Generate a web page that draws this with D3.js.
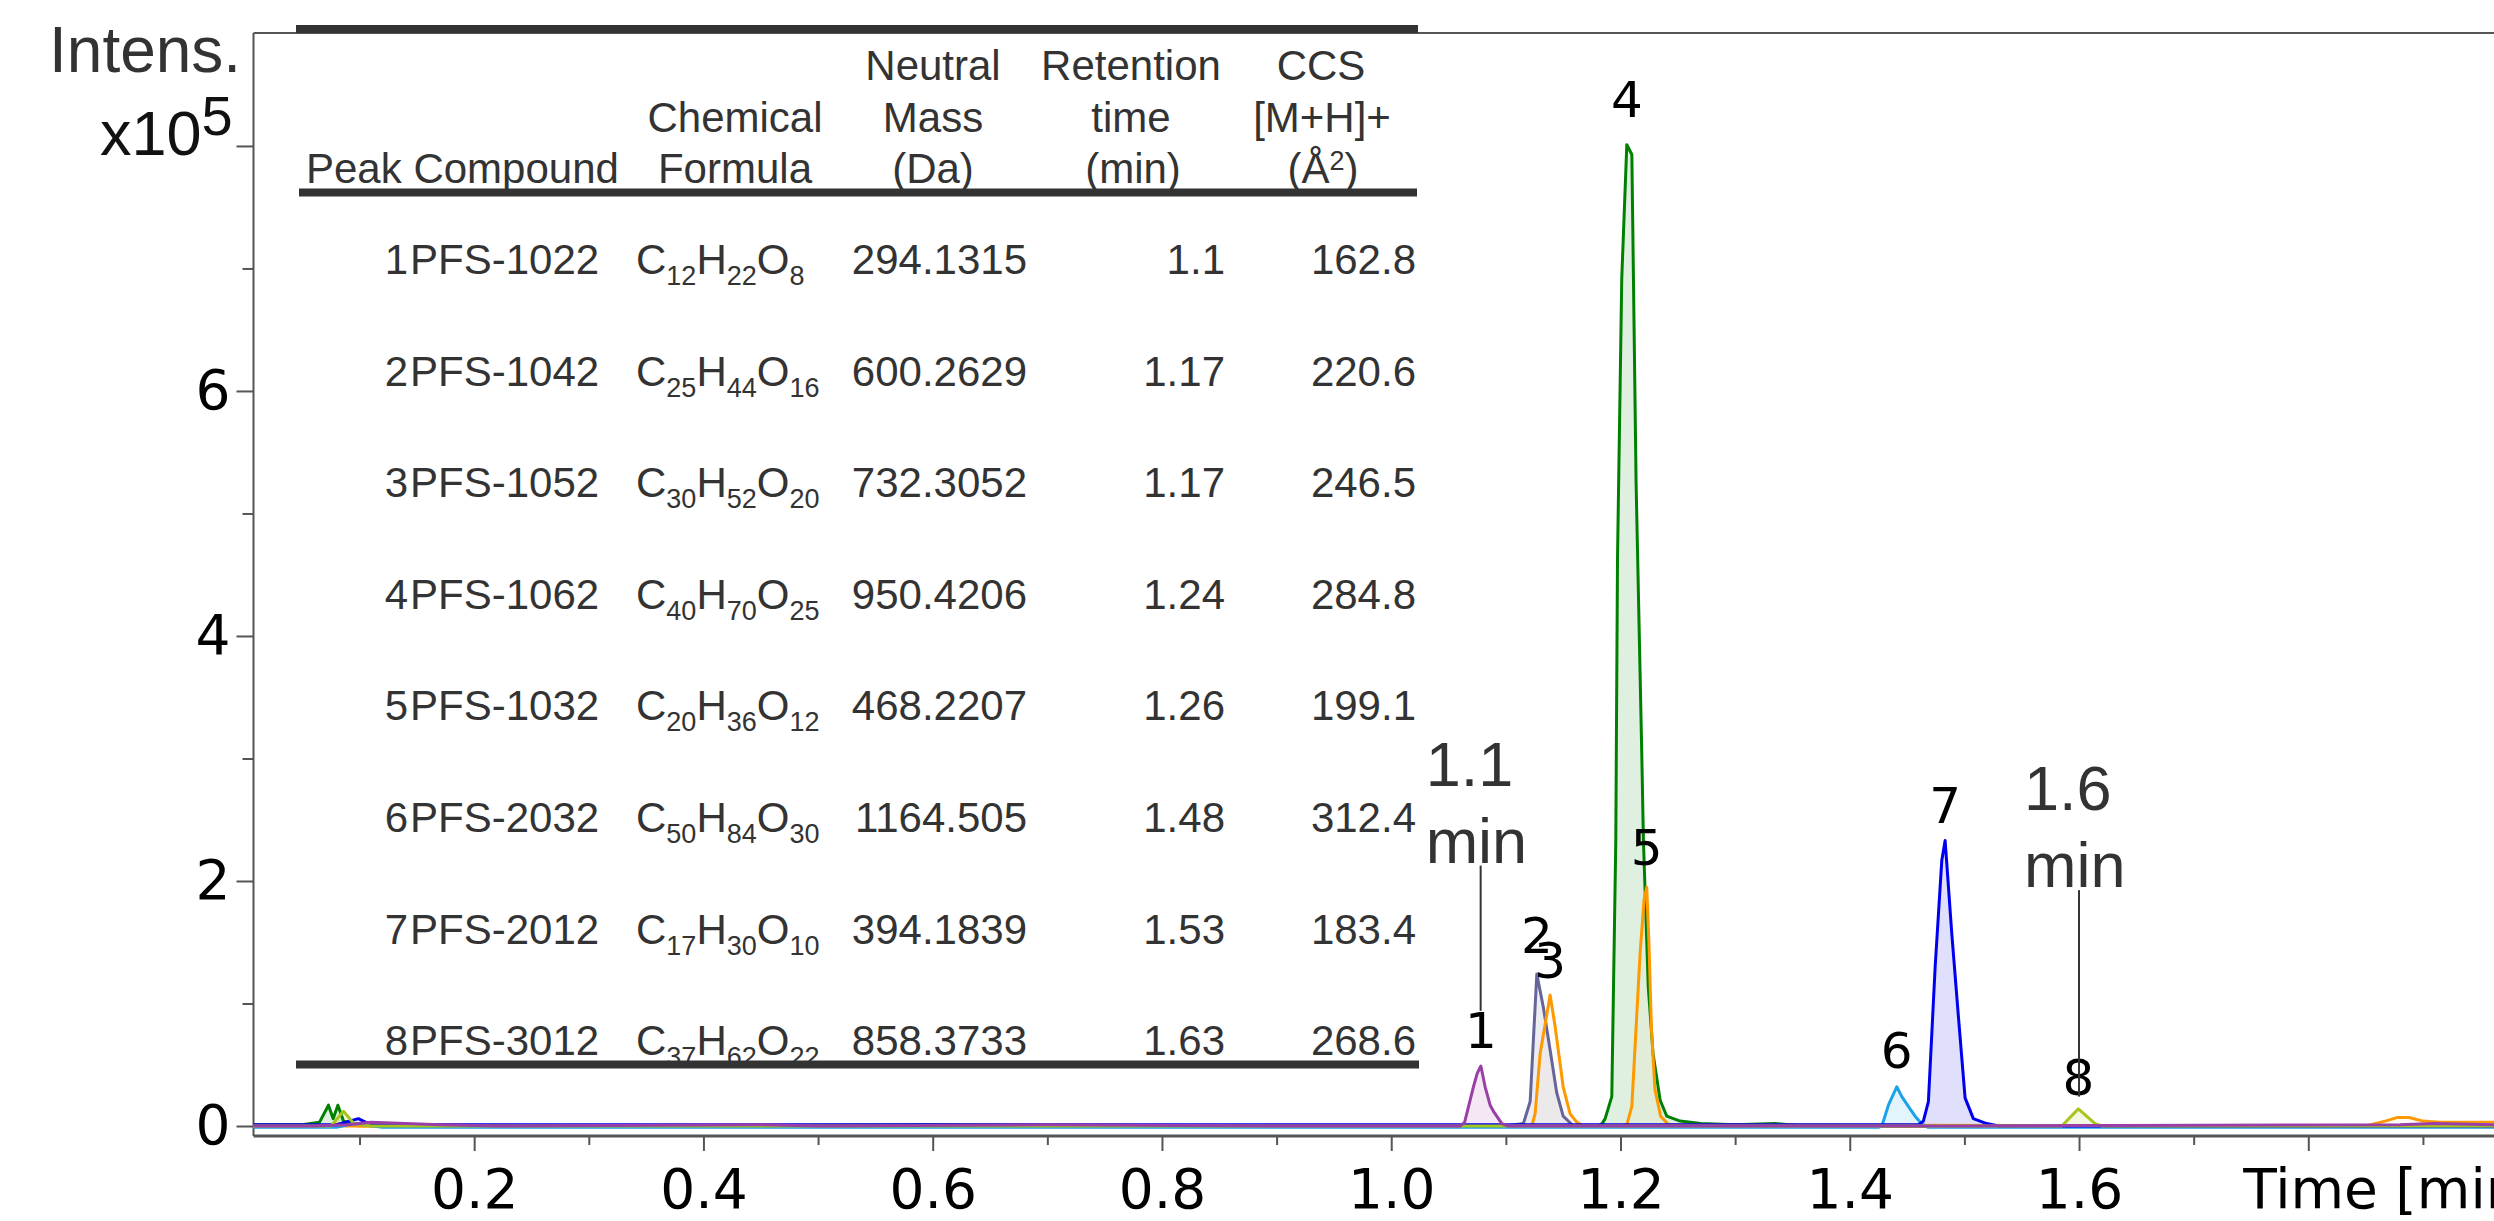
<!DOCTYPE html>
<html>
<head>
<meta charset="utf-8">
<script src="https://cdn.jsdelivr.net/npm/d3@7"></script>
<style>
body{margin:0;background:#fff;}
svg{display:block;}
</style>
</head>
<body>
<div id="canvas"></div>
<script>
// table rows
var peakNums = [1,2,3,4,5,6,7,8];
var compounds = ['PFS-1022','PFS-1042','PFS-1052','PFS-1062','PFS-1032','PFS-2032','PFS-2012','PFS-3012'];
var formulas = [[12,22,8],[25,44,16],[30,52,20],[40,70,25],[20,36,12],[50,84,30],[17,30,10],[37,62,22]];
var masses = ['294.1315','600.2629','732.3052','950.4206','468.2207','1164.505','394.1839','858.3733'];
var retTimes = ['1.1','1.17','1.17','1.24','1.26','1.48','1.53','1.63'];
var ccsValues = ['162.8','220.6','246.5','284.8','199.1','312.4','183.4','268.6'];

// ticks
var yMajorTicks = [0,2,4,6,8];
var yMinorTicks = [1,3,5,7];
var xMajorTicks = [0.2,0.4,0.6,0.8,1.0,1.2,1.4,1.6,1.8];
var xMinorTicks = [0.1,0.3,0.5,0.7,0.9,1.1,1.3,1.5,1.7,1.9];

// traces: [time (min), intensity (x10^5)]
var tracePurple = [[0.0075,0.0],[0.06,0.0],[0.09,0.01],[0.11,0.03],[0.14,0.02],[0.17,0.01],[0.22,0.0],[0.45,0.01],[0.5,0.0],[0.7,0.01],[0.9,0.0],
    [1.060,0.0],[1.064,0.03],[1.0717,0.32],[1.075,0.43],[1.0782,0.49],[1.0819,0.32],[1.0863,0.17],[1.0892,0.12],[1.0965,0.02],[1.102,0.0],
    [1.5,0.0],[1.88,0.01],[1.91,0.02],[1.962,0.01]];
var traceSlate = [[0.0075,0.0],[0.08,0.0],[0.095,0.02],[0.11,0.0],[1.10,0.0],
    [1.1153,0.02],[1.1212,0.2],[1.127,1.24],[1.1327,0.97],[1.1386,0.62],[1.1444,0.27],[1.150,0.08],[1.159,0.0],[1.962,0.0]];
var traceOrange3 = [[0.0075,0.0],[0.07,0.0],[0.085,0.02],[0.1,0.0],[1.12,0.0],
    [1.1226,0.0],[1.1255,0.1],[1.1299,0.59],[1.1386,1.07],[1.143,0.81],[1.150,0.32],[1.156,0.10],[1.162,0.03],[1.168,0.0],[1.962,0.0]];
var traceGreen = [[0.0075,0.01],[0.05,0.01],[0.065,0.03],[0.0729,0.17],[0.077,0.06],[0.0811,0.17],[0.086,0.04],[0.10,0.01],[0.3,0.0],[0.6,0.01],[0.9,0.0],
    [1.18,0.0],[1.184,0.02],[1.1866,0.06],[1.1924,0.24],[1.1959,2.33],[1.1974,4.64],[1.2011,6.92],[1.2055,8.01],[1.2099,7.93],[1.2136,5.25],
    [1.2186,3.02],[1.2200,2.33],[1.2242,1.14],[1.2284,0.59],[1.2346,0.21],[1.2404,0.08],[1.252,0.04],[1.27,0.02],[1.30,0.01],[1.335,0.02],[1.36,0.0],[1.962,0.0]];
var traceOrange5 = [[0.0075,0.0],[1.200,0.0],[1.2055,0.01],[1.2099,0.16],[1.2171,1.41],[1.2206,1.85],[1.2229,1.95],[1.2248,1.5],[1.2270,0.8],
    [1.2300,0.3],[1.2350,0.08],[1.2420,0.01],[1.85,0.0],[1.867,0.04],[1.878,0.07],[1.888,0.07],[1.90,0.04],[1.915,0.03],[1.962,0.03]];
var traceLightBlue = [[0.0075,-0.01],[0.08,-0.01],[0.095,0.02],[0.12,-0.01],[1.425,-0.01],
    [1.428,0.0],[1.4337,0.17],[1.441,0.32],[1.4454,0.24],[1.4526,0.14],[1.457,0.08],[1.4625,0.02],[1.468,-0.01],[1.962,-0.01]];
var traceBlue = [[0.0075,0.01],[0.08,0.01],[0.099,0.06],[0.11,0.01],[0.5,0.01],[1.46,0.01],
    [1.4642,0.04],[1.4686,0.2],[1.4745,1.30],[1.4803,2.17],[1.4832,2.33],[1.489,1.57],[1.4948,0.89],[1.5006,0.23],[1.5078,0.06],[1.5194,0.02],[1.53,0.0],[1.962,0.0]];
var traceYellowGreen = [[0.0075,0.0],[0.075,0.0],[0.086,0.12],[0.095,0.02],[0.11,0.0],[1.58,0.0],
    [1.585,0.0],[1.5994,0.14],[1.614,0.02],[1.62,0.0],[1.962,0.0]];

// which trace each numbered peak sits on
var peakTraces = [tracePurple, traceSlate, traceOrange3, traceGreen, traceOrange5, traceLightBlue, traceBlue, traceYellowGreen];

// retention time call-outs
var annotTexts = ['1.1','1.6'];
var annotTimes = [1.078,1.6];
var annotTextLevel = [2.15,1.95];
var annotLineEnd = [0.94,0.24];

var traces = [
    {pts:traceSlate, color:'#65659a', fillOp:0.12},
    {pts:traceOrange3, color:'#ff9900', fillOp:0.03},
    {pts:traceGreen, color:'#008000', fillOp:0.12},
    {pts:traceOrange5, color:'#ff9900', fillOp:0.03},
    {pts:traceLightBlue, color:'#1aa3e8', fillOp:0.12},
    {pts:traceBlue, color:'#0000f0', fillOp:0.12},
    {pts:traceYellowGreen, color:'#a6c61c', fillOp:0.12},
    {pts:tracePurple, color:'#9a3ea8', fillOp:0.12}
];

// gap (px) between each apex and its number
var labelGap = [18,21,17,28,22,19,18,14];

var outerWidth = 2494, outerHeight = 1221;
var m = {t:33,r:0,b:85,l:253.5};
var w = outerWidth - m.l - m.r,
    h = outerHeight - m.t - m.b;

var svg = d3.select('#canvas')
    .append('svg')
    .attr('width',outerWidth)
    .attr('height',outerHeight);

var plot = svg.append('g')
    .attr('transform','translate(' + m.l + ',' + m.t + ')');

//Scale
var scaleX = d3.scaleLinear()
    .domain([0.0075,1.962])
    .range([0,w]);
var scaleY = d3.scaleLinear()
    .domain([-0.0816,8.922])
    .range([h,0]);

//Axis
var axisYMajor = d3.axisLeft(scaleY)
    .tickValues(yMajorTicks)
    .tickSize(17)
    .tickPadding(6)
    .tickFormat(function(d){return d===8 ? '' : d;});
var axisYMinor = d3.axisLeft(scaleY)
    .tickValues(yMinorTicks)
    .tickSize(11)
    .tickFormat('');
var axisXMajor = d3.axisBottom(scaleX)
    .tickValues(xMajorTicks)
    .tickSize(15)
    .tickPadding(18)
    .tickFormat(function(d){return d===1.8 ? '' : d3.format('.1f')(d);});
var axisXMinor = d3.axisBottom(scaleX)
    .tickValues(xMinorTicks)
    .tickSize(9)
    .tickFormat('');

[axisYMajor,axisYMinor].forEach(function(ax){
    plot.append('g').attr('class','axis axis-y').call(ax);
});
[axisXMajor,axisXMinor].forEach(function(ax){
    plot.append('g').attr('class','axis axis-x')
        .attr('transform','translate(0,'+h+')')
        .call(ax);
});
plot.selectAll('.axis .domain').remove();
plot.selectAll('.axis line').style('stroke','#555').style('stroke-width','2px');
plot.selectAll('.axis text')
    .style('font-family','"DejaVu Sans"')
    .style('font-size','55px')
    .style('fill','#000');

//Frame
plot.append('line').attr('x1',0).attr('x2',0).attr('y1',0).attr('y2',h)
    .style('stroke','#555').style('stroke-width','2px');
plot.append('line').attr('x1',0).attr('x2',w).attr('y1',0).attr('y2',0)
    .style('stroke','#555').style('stroke-width','2px');
plot.append('line').attr('x1',0).attr('x2',w).attr('y1',h).attr('y2',h)
    .style('stroke','#555').style('stroke-width','3px');

//Traces
var lineGenerator = d3.line()
    .x(function(d){return scaleX(d[0])})
    .y(function(d){return scaleY(d[1])});
var areaGenerator = d3.area()
    .x(function(d){return scaleX(d[0])})
    .y0(scaleY(0))
    .y1(function(d){return scaleY(d[1])});

var traceG = plot.append('g');
traceG.selectAll('.fill')
    .data(traces)
    .enter()
    .append('path')
    .attr('class','fill')
    .attr('d',function(d){return areaGenerator(d.pts)})
    .style('fill',function(d){return d.color})
    .style('fill-opacity',function(d){return d.fillOp})
    .style('stroke','none');
traceG.selectAll('.trace')
    .data(traces)
    .enter()
    .append('path')
    .attr('class','trace')
    .attr('d',function(d){return lineGenerator(d.pts)})
    .style('fill','none')
    .style('stroke',function(d){return d.color})
    .style('stroke-width','3px')
    .style('stroke-linejoin','round');

//Peak numbers
var apexes = peakTraces.map(function(pts){
    return d3.greatest(pts,function(p){return p[1]});
});
plot.selectAll('.peak-label')
    .data(apexes)
    .enter()
    .append('text')
    .attr('class','peak-label')
    .attr('x',function(d){return scaleX(d[0])})
    .attr('y',function(d,i){return scaleY(d[1]) - labelGap[i]})
    .attr('text-anchor','middle')
    .style('font-family','"DejaVu Sans"')
    .style('font-size','50px')
    .style('fill','#000')
    .text(function(d,i){return peakNums[i]});

//Retention time call-outs
annotTexts.forEach(function(t,i){
    var ax = scaleX(annotTimes[i]),
        ay = scaleY(annotTextLevel[i]);
    var g = plot.append('g');
    g.append('line')
        .attr('x1',ax).attr('x2',ax)
        .attr('y1',ay + 3).attr('y2',scaleY(annotLineEnd[i]))
        .style('stroke','#333').style('stroke-width','2px');
    g.append('text')
        .attr('x',ax - 55).attr('y',ay - 77)
        .style('font-family','"Liberation Sans", Arial, sans-serif')
        .style('font-size','63px')
        .style('fill','#333')
        .text(t);
    g.append('text')
        .attr('x',ax - 55).attr('y',ay)
        .style('font-family','"Liberation Sans", Arial, sans-serif')
        .style('font-size','63px')
        .style('fill','#333')
        .text('min');
});

//Axis titles
svg.append('text')
    .attr('x',49).attr('y',72)
    .style('font-family','"Liberation Sans", Arial, sans-serif')
    .style('font-size','64px')
    .style('fill','#333')
    .text('Intens.');
var expo = svg.append('text')
    .attr('x',100).attr('y',155)
    .style('font-family','"Liberation Sans", Arial, sans-serif')
    .style('font-size','63px')
    .style('fill','#111');
expo.append('tspan').text('x10');
expo.append('tspan').attr('dy',-20).style('font-size','56px').text('5');
plot.append('text')
    .attr('x',scaleX(1.8) - 65).attr('y',h + 72)
    .style('font-family','"DejaVu Sans"')
    .style('font-size','55px')
    .style('fill','#000')
    .text('Time [min]');

//Table
var tbl = svg.append('g')
    .style('font-family','"Liberation Sans", Arial, sans-serif')
    .style('font-size','42px')
    .style('fill','#333');
var col = {num:408, cmp:410, frm:636, mass:1027, rt:1225, ccs:1416};
var headRows = [80,131.7,182.7];

function head(x,y,txt,anchor){
    return tbl.append('text').attr('x',x).attr('y',y)
        .attr('text-anchor',anchor||'middle').text(txt);
}
head(306,headRows[2],'Peak Compound','start');
head(735,headRows[1],'Chemical');
head(735,headRows[2],'Formula');
head(933,headRows[0],'Neutral');
head(933,headRows[1],'Mass');
head(933,headRows[2],'(Da)');
head(1131,headRows[0],'Retention');
head(1131,headRows[1],'time');
head(1133,headRows[2],'(min)');
head(1321,headRows[0],'CCS');
head(1322,headRows[1],'[M+H]+');
var ccsUnit = head(1323,headRows[2],'');
ccsUnit.append('tspan').text('(Å');
ccsUnit.append('tspan').attr('dy',-13).style('font-size','27px').text('2');
ccsUnit.append('tspan').attr('dy',13).text(')');

var rowY0 = 274, rowStep = 111.6;
var rows = tbl.selectAll('.row')
    .data(peakNums)
    .enter()
    .append('g')
    .attr('class','row')
    .attr('transform',function(d,i){return 'translate(0,' + (rowY0 + i*rowStep) + ')'});
rows.append('text').attr('x',col.num).attr('text-anchor','end').text(function(d){return d});
rows.append('text').attr('x',col.cmp).text(function(d,i){return compounds[i]});
rows.append('text').attr('x',col.mass).attr('text-anchor','end').text(function(d,i){return masses[i]});
rows.append('text').attr('x',col.rt).attr('text-anchor','end').text(function(d,i){return retTimes[i]});
rows.append('text').attr('x',col.ccs).attr('text-anchor','end').text(function(d,i){return ccsValues[i]});
rows.each(function(d,i){
    var t = d3.select(this).append('text').attr('x',col.frm);
    ['C','H','O'].forEach(function(el,k){
        t.append('tspan').attr('dy',k===0 ? 0 : -11).text(el);
        t.append('tspan').attr('dy',11).style('font-size','27px').text(formulas[i][k]);
    });
});

//Rules (drawn over the text)
[[296,1418,29],[299,1417,192.5],[296,1419,1064.5]].forEach(function(r){
    tbl.append('line')
        .attr('x1',r[0]).attr('x2',r[1]).attr('y1',r[2]).attr('y2',r[2])
        .style('stroke','#333').style('stroke-width','8px');
});
</script>
</body>
</html>
